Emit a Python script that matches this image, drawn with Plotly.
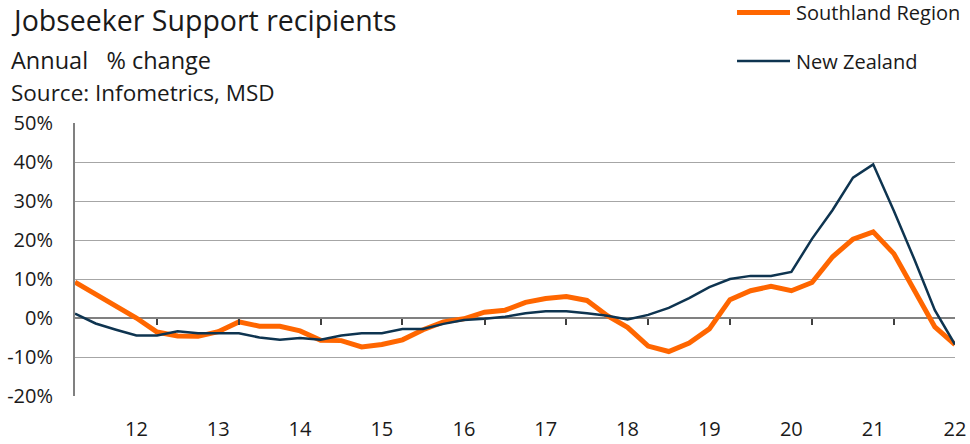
import pandas as pd
import plotly.graph_objects as go

# Trimestres (fin de trimestre) jun-2011 .. mar-2022
quarters = pd.date_range("2011-06-01", "2022-03-01", freq="3MS")

southland = [9.2, 6.0, 3.2, 0.0, -3.6, -4.6, -4.7, -3.5, -1.0, -2.1, -2.1, -3.3,
             -5.7, -5.8, -7.4, -6.8, -5.6, -3.0, -1.0, -0.2, 1.5, 2.0, 4.0, 5.0,
             5.5, 4.5, 0.6, -2.4, -7.2, -8.6, -6.4, -2.8, 4.7, 7.0, 8.1, 7.0,
             9.1, 15.7, 20.2, 22.1, 16.5, 7.0, -2.3, -6.8]
new_zealand = [1.1, -1.4, -3.0, -4.5, -4.5, -3.4, -3.9, -3.9, -3.9, -5.0, -5.6, -5.1,
               -5.6, -4.5, -3.9, -3.9, -2.8, -2.8, -1.5, -0.5, -0.2, 0.3, 1.2, 1.7,
               1.7, 1.2, 0.6, -0.4, 0.8, 2.6, 5.1, 7.9, 10.0, 10.8, 10.8, 11.8,
               20.3, 27.7, 36.0, 39.4, 27.5, 15.0, 2.0, -6.8]

year_labels = ["12", "13", "14", "15", "16", "17", "18", "19", "20", "21", "22"]
label_dates = pd.to_datetime([f"20{y}-03-01" for y in year_labels])
tick_dates = pd.to_datetime([f"20{y}-06-01" for y in year_labels[:-1]])

y_vals = [-20, -10, 0, 10, 20, 30, 40, 50]
y_text = ["-20%", "-10%", "0%", "10%", "20%", "30%", "40%", "50%"]

ORANGE = "#FF6600"
NAVY = "#0E3450"
GRID = "#A6A6A6"
AXIS = "#808080"
TEXT = "#1A1A1A"
FONT = "Open Sans"

fig = go.Figure()

fig.add_trace(go.Scatter(
    x=quarters, y=southland, name="Southland Region", mode="lines",
    line=dict(color=ORANGE, width=5),
))
fig.add_trace(go.Scatter(
    x=quarters, y=new_zealand, name="New Zealand", mode="lines",
    line=dict(color=NAVY, width=2.5), xaxis="x2",
))

fig.update_layout(
    width=970, height=444,
    margin=dict(l=75, r=15, t=123, b=48),
    paper_bgcolor="white", plot_bgcolor="white",
    font=dict(family=FONT, color=TEXT),
    showlegend=False,
    xaxis=dict(
        range=[quarters[0], quarters[-1]],
        tickvals=label_dates, ticktext=year_labels,
        ticks="", showgrid=False, showline=False, zeroline=False,
        tickfont=dict(size=20, color=TEXT), ticklabelstandoff=19,
        automargin=False,
    ),
    xaxis2=dict(
        matches="x", overlaying="x", anchor="free", position=20 / 70,
        tickvals=tick_dates, showticklabels=False,
        ticks="outside", ticklen=6, tickwidth=1.5, tickcolor="#404040",
        showgrid=False, showline=False, zeroline=False, automargin=False,
    ),
    yaxis=dict(
        range=[-20, 50], tickvals=y_vals, ticktext=y_text,
        showgrid=True, gridcolor=GRID, gridwidth=1.2,
        zeroline=True, zerolinecolor=AXIS, zerolinewidth=2,
        showline=True, linecolor=AXIS, linewidth=2,
        ticks="", ticklabelstandoff=16,
        tickfont=dict(size=20, color=TEXT), automargin=False,
    ),
)

# Légende dessinée à la main (au-dessus du graphique, à droite)
legend_items = [("Southland Region", ORANGE, 5, 1.405),
                ("New Zealand", NAVY, 2.5, 1.227)]
for name, color, width, ly in legend_items:
    fig.add_shape(type="line", xref="paper", yref="paper",
                  x0=0.7523, x1=0.8125, y0=ly, y1=ly,
                  line=dict(color=color, width=width))
    fig.add_annotation(text=name, xref="paper", yref="paper",
                       x=0.817, y=ly, xanchor="left", yanchor="middle",
                       showarrow=False, font=dict(size=20, color=TEXT))

# Titre, sous-titre et source
fig.add_annotation(text="Jobseeker Support recipients", xref="paper", yref="paper",
                   x=-0.0755, y=1.378, xanchor="left", yanchor="middle",
                   showarrow=False, font=dict(size=28.5, color=TEXT))
fig.add_annotation(text="Annual\u00a0\u00a0 % change", xref="paper", yref="paper",
                   x=-0.0755, y=1.231, xanchor="left", yanchor="middle",
                   showarrow=False, font=dict(size=23.5, color=TEXT))
fig.add_annotation(text="Source: Infometrics, MSD", xref="paper", yref="paper",
                   x=-0.0755, y=1.110, xanchor="left", yanchor="middle",
                   showarrow=False, font=dict(size=22.5, color=TEXT))

# pas de marge de page : le graphique occupe toute la fenêtre
fig.write_html("out.html", config={"displayModeBar": False},
               post_script="document.body.style.margin='0px';")
